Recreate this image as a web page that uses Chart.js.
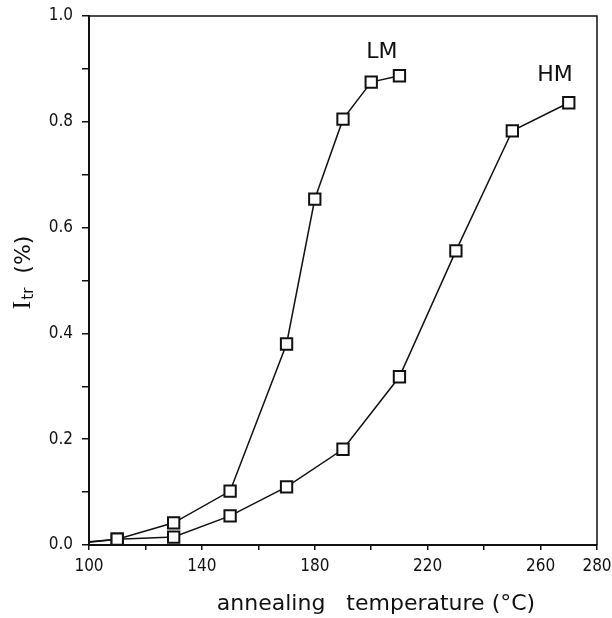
<!DOCTYPE html>
<html>
<head>
<meta charset="utf-8">
<script src="https://cdn.jsdelivr.net/npm/chart.js@4/dist/chart.umd.min.js"></script>
<style>
  html, body { margin: 0; padding: 0; background: #ffffff; }
  #wrap { width: 612px; height: 618px; }
</style>
</head>
<body>
<div id="wrap"><canvas id="c" width="612" height="618"></canvas></div>
<script>
// ---- data ----
const lmTemps = [100, 110, 130, 150, 170, 180, 190, 200, 210];
const lmValues = [0.006, 0.011, 0.042, 0.102, 0.380, 0.654, 0.805, 0.875, 0.887];
const hmTemps = [100, 110, 130, 150, 170, 190, 210, 230, 250, 270];
const hmValues = [0.005, 0.011, 0.015, 0.055, 0.110, 0.181, 0.318, 0.556, 0.783, 0.836];
const xLabelled = [100, 140, 180, 220, 260, 280];
const yLabelled = [0.0, 0.2, 0.4, 0.6, 0.8, 1.0];
const seriesNames = ['LM', 'HM'];
const seriesLabelPos = [[203.8, 0.932], [265.1, 0.887]];
const xTitle = 'annealing   temperature (\u00B0C)';
const yTitleMain = 'I', yTitleSub = 'tr', yTitleRest = '  (%)';

const tickFont = "'Liberation Sans Narrow', 'DejaVu Sans Condensed', 'DejaVu Sans', sans-serif";
const ink = '#111111';

function toXY(xs, ys) { return xs.map((x, i) => ({ x: x, y: ys[i] })); }
function radii(n) { return Array.from({ length: n }, (_, i) => (i === 0 ? 0 : 8)); }

const framePlugin = {
  id: 'frame',
  afterDraw(chart) {
    const { ctx, chartArea: a, scales } = chart;
    ctx.save();
    ctx.strokeStyle = ink;
    ctx.lineWidth = 1.5;
    ctx.beginPath();
    ctx.moveTo(a.left, a.top); ctx.lineTo(a.right, a.top); ctx.lineTo(a.right, a.bottom);
    ctx.stroke();
    // series labels
    ctx.fillStyle = ink;
    ctx.font = "22px 'DejaVu Sans', sans-serif";
    ctx.textAlign = 'center'; ctx.textBaseline = 'middle';
    seriesNames.forEach((n, i) => {
      const p = seriesLabelPos[i];
      ctx.fillText(n, scales.x.getPixelForValue(p[0]), scales.y.getPixelForValue(p[1]));
    });
    // x title
    ctx.font = "22px 'DejaVu Sans', sans-serif";
    ctx.textBaseline = 'alphabetic';
    ctx.fillText(xTitle, a.left + (a.right - a.left) * 0.565, 610);
    // y title with subscript
    ctx.translate(22, 273);
    ctx.rotate(-Math.PI / 2);
    const f1 = "26px 'Liberation Serif', serif";
    const f2 = "15px 'DejaVu Sans', sans-serif";
    const f3 = "22px 'DejaVu Sans', sans-serif";
    ctx.font = f1; const w1 = ctx.measureText(yTitleMain).width;
    ctx.font = f2; const w2 = ctx.measureText(yTitleSub).width;
    ctx.font = f3; const w3 = ctx.measureText(yTitleRest).width;
    let x0 = -(w1 + w2 + w3) / 2;
    ctx.textAlign = 'left';
    ctx.font = f1; ctx.fillText(yTitleMain, x0, 8);
    ctx.font = f2; ctx.fillText(yTitleSub, x0 + w1 + 1, 11);
    ctx.font = f3; ctx.fillText(yTitleRest, x0 + w1 + w2 + 1, 8);
    ctx.restore();
  }
};

new Chart(document.getElementById('c'), {
  type: 'line',
  data: {
    datasets: [
      { label: 'LM', data: toXY(lmTemps, lmValues), borderColor: ink, borderWidth: 1.5,
        pointStyle: 'rect', pointRadius: radii(lmTemps.length), pointBackgroundColor: '#fff',
        pointBorderColor: ink, pointBorderWidth: 2, tension: 0, clip: false },
      { label: 'HM', data: toXY(hmTemps, hmValues), borderColor: ink, borderWidth: 1.5,
        pointStyle: 'rect', pointRadius: radii(hmTemps.length), pointBackgroundColor: '#fff',
        pointBorderColor: ink, pointBorderWidth: 2, tension: 0, clip: false }
    ]
  },
  options: {
    responsive: false,
    animation: false,
    devicePixelRatio: 1,
    layout: { padding: { left: 0, top: 16, right: 15, bottom: 0 } },
    plugins: { legend: { display: false }, tooltip: { enabled: false } },
    scales: {
      x: {
        type: 'linear', min: 100, max: 280,
        afterFit(s) { s.height = 73; s.paddingLeft = 0; s.paddingRight = 0; },
        border: { display: true, color: ink, width: 2 },
        grid: { drawOnChartArea: false, drawTicks: true, tickLength: 5, color: ink, lineWidth: 1.5 },
        ticks: {
          stepSize: 20, color: ink, padding: 6, maxRotation: 0, autoSkip: false,
          font: { family: tickFont, size: 17 },
          callback: (v) => (xLabelled.includes(Math.round(v)) ? String(Math.round(v)) : '')
        }
      },
      y: {
        min: 0, max: 1,
        afterFit(s) { s.width = 89; s.paddingTop = 0; s.paddingBottom = 0; },
        border: { display: true, color: ink, width: 2 },
        grid: { drawOnChartArea: false, drawTicks: true, tickLength: 7, color: ink, lineWidth: 1.5 },
        ticks: {
          stepSize: 0.1, color: ink, padding: 9, autoSkip: false,
          font: { family: tickFont, size: 17 },
          callback: (v) => {
            const r = Math.round(v * 10) / 10;
            return yLabelled.some(l => Math.abs(l - r) < 1e-9) ? r.toFixed(1) : '';
          }
        }
      }
    }
  },
  plugins: [framePlugin]
});
</script>
</body>
</html>
